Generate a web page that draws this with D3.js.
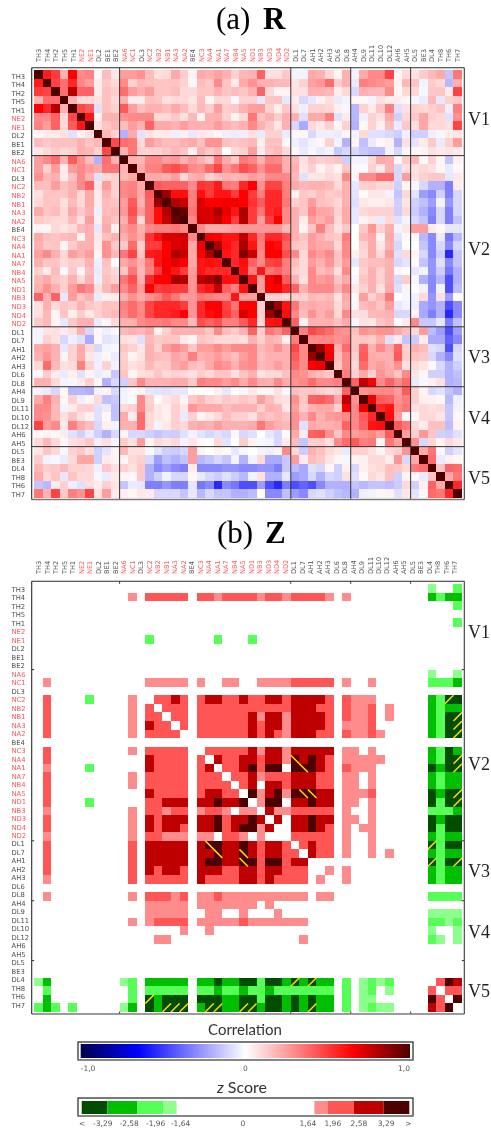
<!DOCTYPE html>
<html>
<head>
<meta charset="utf-8">
<script src="https://cdn.jsdelivr.net/npm/d3@7"></script>
<style>
  html, body { margin: 0; padding: 0; background: #fff; }
  svg { display: block; filter: blur(0.35px); }
</style>
</head>
<body>
<svg id="chart" width="491" height="1132"></svg>
<script>
// electrode names, same order on both matrices
const labels = [
  "TH3","TH4","TH2","TH5","TH1","NE2","NE1","DL2","BE1","BE2",
  "NA6","NC1","DL3","NC2","NB2","NB1","NA3","NA2","BE4","NC3",
  "NA4","NA1","NA7","NB4","NA5","ND1","NB3","ND3","ND4","ND2",
  "DL1","DL7","AH1","AH2","AH3","DL6","DL8",
  "AH4","DL9","DL11","DL10","DL12","AH6","AH5",
  "DL5","BE3","DL4","TH8","TH6","TH7"
];
const groupStarts = ["NA6","DL1","AH4","DL5"];
const groupNames = ["V1","V2","V3","V4","V5"];

// correlation x 100, upper triangle without the diagonal
const rUpper = [
  [58,50,20,65,30,32,2,17,6, 25,25,28,17,8,10,22,13,3,22,20,24,20,12,18,20,40,8,8,14, -3,-3,22,20,10,2,20, -3,22,30,30,48,2,10, 7,13,18,22,-15,35],
  [48,37,55,30,25,5,14,10, 30,12,18,16,15,15,15,12,2,17,14,30,15,5,22,28,20,20,18,18, 7,12,24,27,38,13,20, -5,33,30,28,25,3,18, 15,-3,13,10,-18,20],
  [37,80,40,40,5,16,13, 37,25,20,25,15,15,17,10,10,15,15,20,15,17,15,20,40,10,3,3, 8,8,20,20,18,5,10, -10,20,18,18,30,2,10, 10,-2,14,15,5,48],
  [20,10,10,8,16,10, 20,5,5,16,15,8,10,10,7,17,3,10,10,-2,12,12,-6,15,15,-6, 5,-10,-6,3,8,-5,-3, 2,2,-3,8,5,5,2, -2,-5,18,-6,12,14],
  [47,42,-8,16,12, 42,25,16,20,20,17,22,17,10,18,13,25,13,14,20,25,25,12,4,14, 8,-4,12,12,10,4,-2, -18,12,5,15,33,-8,8, 12,10,12,15,-4,33],
  [60,3,20,20, 28,30,30,30,10,10,14,8,18,3,20,20,12,3,10,35,15,20,13,20, 20,-8,22,22,33,-8,5, -18,-4,12,8,22,-12,10, 14,23,12,10,-8,28],
  [8,15,18, 17,25,20,40,22,22,20,25,20,20,20,25,20,17,20,30,20,14,6,20, -10,-22,10,6,12,3,12, -20,2,12,4,17,-5,14, 8,23,10,10,8,48],
  [18,12, -20,22,-8,7,5,5,-4,4,-6,6,5,2,-4,-5,-4,8,-5,12,12,-5, 2,2,-10,-4,-4,-5,2, -3,10,-8,-8,-10,-12,-4, -12,-12,-4,-2,5,7],
  [47, 37,35,10,25,20,17,17,20,22,16,28,28,16,14,16,18,4,16,16,2, -4,-7,-3,2,12,-3,-20, 3,-16,-5,2,4,-20,8, -7,5,14,-5,12,25],
  [20,35,12,12,12,15,18,15,4,20,14,18,0,10,12,25,5,15,18,10, 2,-5,-2,-5,-3,-14,-10, -10,-14,-16,-16,-3,-10,-2, 2,3,8,5,7,5],
  [20,18,30,30,25,27,20,25,20,14,35,22,14,35,30,20,32,30,20, 18,8,15,12,13,15,-12, -3,-3,10,22,20,2,13, 18,2,12,3,-15,4],
  [22,32,33,42,45,40,30,28,38,48,28,35,45,40,28,38,38,20, 20,7,12,3,8,3,15, 2,-1,12,5,20,-10,8, 8,10,8,2,-5,2],
  [22,22,20,25,10,20,22,12,15,20,18,20,25,22,30,30,30, 18,-8,6,7,10,8,30, 3,30,30,38,38,-10,25, 8,12,14,14,-6,6],
  [42,40,40,40,30,52,50,58,35,33,55,65,28,48,48,33, 22,18,20,20,18,10,20, -6,12,13,10,10,-12,3, -2,-10,-20,-20,-33,5],
  [85,62,62,33,62,50,60,60,50,65,50,33,55,55,33, 3,14,12,17,13,15,20, -7,1,6,6,-3,-15,10, -7,-25,-30,-12,-33,-10],
  [80,76,33,72,65,65,67,67,65,52,42,55,55,35, 12,15,25,16,14,10,20, -8,6,4,4,6,-12,7, -12,-16,-25,-3,-27,-10],
  [95,35,72,72,82,70,60,82,50,35,55,58,30, 20,15,30,23,22,12,22, -6,10,12,12,12,-13,10, -13,-20,-30,-10,-33,-10],
  [30,74,72,76,65,50,80,50,25,50,65,30, 20,5,25,20,25,10,22, -6,3,6,-5,10,-8,-3, -10,-15,-33,-10,-33,-15],
  [30,22,22,22,25,27,27,27,27,27,18, 20,3,15,33,17,8,14, 0,14,27,12,20,-3,6, 25,25,5,2,-6,-6],
  [68,65,60,60,78,55,35,55,55,45, 20,15,25,20,15,13,33, 0,18,22,3,22,-7,2, 2,-18,-30,-5,-35,-18],
  [82,62,55,82,60,33,65,62,40, 15,13,25,22,22,10,30, 0,12,22,6,20,-10,0, 0,-15,-30,-10,-30,-10],
  [60,55,90,76,30,65,65,45, 30,10,30,25,30,15,30, 4,10,22,10,25,-8,10, 3,-10,-30,-13,-55,-15],
  [55,62,40,30,48,50,33, 17,10,25,20,27,15,25, -6,14,17,17,20,-10,-7, 1,-15,-27,-8,-30,-15],
  [60,33,60,35,40,33, 13,10,30,17,20,8,30, 0,12,20,12,20,2,0, -6,-3,-27,-13,-35,-20],
  [60,25,65,72,42, 20,8,30,25,28,15,22, -2,15,20,12,20,-10,13, -2,-20,-30,-18,-45,-20],
  [25,65,65,55, 40,20,30,30,30,20,30, 6,12,20,8,22,-8,3, 0,-3,-30,-3,-45,-17],
  [12,12,10, 12,12,18,16,18,7,22, 2,25,12,18,35,0,-2, -3,10,-27,8,-25,1],
  [85,60, 35,20,22,20,20,10,20, 2,17,20,15,25,-6,-3, -4,-22,-27,-20,-45,-30],
  [62, 30,17,28,20,25,10,30, 8,9,18,18,20,-10,-10, 3,-22,-33,-20,-55,-30],
  [40,4,20,20,20,16,22, -2,8,6,15,18,1,5, 30,-14,-14,-6,-33,-16],
  [33,47,42,38,30,28, 16,28,25,28,28,22,17, 10,25,-17,-25,-45,-25],
  [30,30,30,28,30, 14,15,13,20,-8,5,-15, -13,5,-22,-22,-40,-30],
  [85,65,20,38, 15,40,20,30,22,40,12, 20,17,-8,-10,-45,-10],
  [68,17,30, 12,42,22,20,20,42,13, 16,14,-10,-20,-30,-8],
  [15,30, 10,38,22,25,20,28,8, 10,7,2,-10,-20,-12],
  [33, 12,22,12,27,22,15,30, 7,2,-12,-12,-20,-16],
  [40,77,66,30,40,30,38, -5,-2,4,8,-20,-18],
  [28,30,30,30,25,42, 12,3,-10,-8,-15,-20],
  [68,42,40,28,33, 12,4,4,2,-18,-4],
  [55,60,30,35, 8,10,8,10,-15,-3],
  [62,25,2, 2,10,10,7,-15,2],
  [42,35, 10,5,16,16,-17,3],
  [25, 12,27,15,-12,-13,-8],
  [28,-10,10,3,10,6],
  [22,35,2,-12,-7],
  [38,-5,4,2],
  [15,40,38],
  [22,35],
  [55]
];

// z score class per cell, upper triangle only. "." not significant,
// 1-4 positive classes, a-d negative classes. spaces mark the five groups
const zUpper = [
  ".......... .................... ....... ....... ..a..b",
  ".......... .1.22222.22122221221 22221.1 ....... ..cbcc",
  ".......... .................... ....... ....... .....b",
  ".......... .................... ....... ....... ......",
  ".......... .................... ....... ....... .....b",
  ".......... .................... ....... ....... ......",
  ".......... ...b.......b...b.... ....... ....... ......",
  ".......... .................... ....... ....... ......",
  ".......... .................... ....... ....... ......",
  ".......... .................... ....... ....... ......",
  ".......... .................... ....... ....... ..a..a",
  ".......... ...11111.1..11..1111 22222.1 ..1.... ..bbbc",
  ".......... .................... ....... ....... ......",
  ".......... ....2232.23322322332 33332.2 111.... ..cbdd",
  ".......... .....222.22222222222 33322.2 112.1.. ..cbcc",
  ".......... ......22.22222231331 33332.2 112.1.. ..cbdd",
  ".......... .......2.22222232331 33332.1 112.... ..cbdd",
  ".......... .........22222232321 33322.2 1121... ..cbdd",
  ".......... .................... ....... ....... ......",
  ".......... ..........2222231331 33333.1 1.1.... ..cbdc",
  ".......... ...........322332331 43432.1 1111... ..cbdd",
  ".......... ............2234244. 44432.2 111.... ..dcdd",
  ".......... .............2231222 33322.1 1.1.... ..cbcc",
  ".......... ..............23.332 33322.1 1.1.... ..cbcc",
  ".......... ...............41341 44433.1 112.... ..dcdd",
  ".......... ................144. 33433.1 1.1.... ..dbdd",
  ".......... .................311 22222.1 ..1.... ..bbbc",
  ".......... ..................3. 33433.1 1.1.... ..dcdd",
  ".......... .................... 33432.1 .11.... ..dbdd",
  ".......... .................... 22222.1 ..1.... ..cbcc",
  ".......... .................... .2322.1 ..1.... ..dbdd",
  ".......... .................... ..322.1 ..1.1.. ..cbcc",
  ".......... .................... ....... ....... ..dbdd",
  ".......... .................... ....1.1 ....... ..cbcc",
  ".......... .................... ......1 ....... ..cbcc",
  ".......... .................... ....... ....... ......",
  ".......... .................... ....... ....... ..bbbb",
  ".......... .................... ....... ....... ......",
  ".......... .................... ....... ....... ..aaaa",
  ".......... .................... ....... ....... ..bbab",
  ".......... .................... ....... ....... ..a..a",
  ".......... .................... ....... ....... ..ba.a",
  ".......... .................... ....... ....... ......",
  ".......... .................... ....... ....... ......",
  ".......... .................... ....... ....... ......",
  ".......... .................... ....... ....... ......",
  ".......... .................... ....... ....... ...243",
  ".......... .................... ....... ....... ....22",
  ".......... .................... ....... ....... .....4",
  ".......... .................... ....... ....... ......"
];

// cells with a yellow slash [row, column]
const slashRed = [["NA4","DL1"],["NA1","DL7"],["NA5","DL7"],["NA5","AH1"]];
const slashGreen = [["NC2","TH6"],["NB1","TH7"],["NA3","TH7"],["NA2","TH7"],["NA4","TH7"],
  ["NA1","TH7"],["NA5","TH7"],["ND1","TH7"],["DL1","DL4"],["AH1","DL4"],["AH1","TH7"]];

const zClasses = ["d","c","b","a","1","2","3","4"];
const zColors = ["#004d00","#00bf00","#55ff55","#8cff8c","#ff8c8c","#ff5555","#bf0000","#4d0000"];
const zBreaks = [-3.9,-3.29,-2.58,-1.96,-1.64,1.64,1.96,2.58,3.29,3.9];
const zTickText = ["<","-3,29","-2,58","-1,96","-1,64","0","1,64","1,96","2,58","3,29",">"];
const zTickVals = [-3.9,-3.29,-2.58,-1.96,-1.64,0,1.64,1.96,2.58,3.29,3.9];
const corrStops = [-1,-0.65,0,0.65,1];
const corrColors = ["#00004d","#0000ff","#ffffff","#ff0000","#4d0000"];

const svg = d3.select("#chart");
const sansTick = "'DejaVu Sans', sans-serif";
const sansTitle = "Lato, 'Open Sans', sans-serif";
const serif = "'Liberation Serif', serif";

const rCorr = d3.scaleLinear().domain(corrStops).range(corrColors);
const zColor = d3.scaleOrdinal().domain(zClasses).range(zColors);

// cell grid shared by both panels
const x = d3.scaleBand().domain(labels).range([34, 462]);
const cw = x.bandwidth();

const rCells = [];
labels.forEach((a, i) => {
  rCells.push({ row: a, col: a, v: 1 });
  if (i < 49) {
    if (rUpper[i].length !== 49 - i) throw new Error("R row " + i + " has " + rUpper[i].length);
    rUpper[i].forEach((v, k) => {
      const b = labels[i + 1 + k];
      rCells.push({ row: a, col: b, v: v / 100 }, { row: b, col: a, v: v / 100 });
    });
  }
});

const zCells = [];
zUpper.forEach((s, i) => {
  const chars = s.replace(/ /g, "");
  if (chars.length !== 50) throw new Error("Z row " + i + " has " + chars.length);
  chars.split("").forEach((c, j) => {
    if (c !== ".") {
      zCells.push({ row: labels[i], col: labels[j], c }, { row: labels[j], col: labels[i], c });
    }
  });
});

const labelColor = (d) => (d[0] === "N" ? "#f4595f" : "#505050");

function drawLabels(g, colBase, colRange, rowRange) {
  const cx = d3.scalePoint().domain(labels).range(colRange);
  const ry = d3.scalePoint().domain(labels).range(rowRange);
  g.selectAll(".col-label").data(labels).enter().append("text")
    .attr("class", "col-label")
    .attr("transform", (d) => `translate(${cx(d) + 2.4},${colBase}) rotate(-90)`)
    .attr("font-family", sansTick).attr("font-size", 6.6)
    .attr("fill", labelColor).text((d) => d);
  g.selectAll(".row-label").data(labels).enter().append("text")
    .attr("class", "row-label")
    .attr("x", 11.5).attr("y", (d) => ry(d) + 2.5)
    .attr("font-family", sansTick).attr("font-size", 6.8)
    .attr("fill", labelColor).text((d) => d);
}

function drawFrame(g, box) {
  const line = (x1, y1, x2, y2, col, w) => g.append("line")
    .attr("x1", x1).attr("y1", y1).attr("x2", x2).attr("y2", y2)
    .attr("stroke", col).attr("stroke-width", w);
  line(box.l, box.b, box.r, box.b, "#7a7a7a", 1.6);
  line(box.l, box.t, box.r, box.t, "#2a2a2a", 1.1);
  line(box.l, box.t, box.l, box.b, "#2a2a2a", 1.1);
  line(box.r, box.t, box.r, box.b, "#3a3a3a", 1.1);
}

function title(cx1, cx2, base, a, b) {
  svg.append("text").attr("x", cx1).attr("y", base)
    .attr("font-family", serif).attr("font-size", 31).text(a);
  svg.append("text").attr("x", cx2).attr("y", base)
    .attr("font-family", serif).attr("font-size", 31).attr("font-weight", "bold").text(b);
}

function groupLabels(ys) {
  svg.selectAll(null).data(groupNames).enter().append("text")
    .attr("x", 468).attr("y", (d, i) => ys[i])
    .attr("font-family", serif).attr("font-size", 18).attr("fill", "#222").text((d) => d);
}

// ---- (a) R
title(216, 263, 29, "(a)", "R");
const yR = d3.scaleBand().domain(labels).range([70, 498]);
const gR = svg.append("g");
gR.selectAll("rect").data(rCells).enter().append("rect")
  .attr("x", (d) => x(d.col)).attr("y", (d) => yR(d.row))
  .attr("width", cw).attr("height", yR.bandwidth())
  .attr("shape-rendering", "crispEdges")
  .attr("fill", (d) => rCorr(d.v));
const boxR = { l: 31.7, r: 464.3, t: 67.7, b: 499.5 };
groupStarts.forEach((n) => {
  gR.append("line").attr("x1", x(n)).attr("x2", x(n)).attr("y1", boxR.t).attr("y2", boxR.b)
    .attr("stroke", "#333").attr("stroke-width", 1);
  gR.append("line").attr("x1", boxR.l).attr("x2", boxR.r).attr("y1", yR(n)).attr("y2", yR(n))
    .attr("stroke", "#333").attr("stroke-width", 1);
});
drawFrame(gR, boxR);
drawLabels(gR, 62, [39, 457.5], [76, 494.3]);
groupLabels([125, 255, 363, 424, 484]);

// ---- (b) Z
title(217, 265, 543, "(b)", "Z");
const yZ = d3.scaleBand().domain(labels).range([584, 1012]);
const gZ = svg.append("g");
gZ.selectAll("rect").data(zCells).enter().append("rect")
  .attr("x", (d) => x(d.col)).attr("y", (d) => yZ(d.row))
  .attr("width", cw).attr("height", yZ.bandwidth())
  .attr("shape-rendering", "crispEdges")
  .attr("fill", (d) => zColor(d.c));

// red cells get "\" and green cells get "/", on both sides of the diagonal
const both = (pairs) => pairs.flatMap(([a, b]) => [[a, b], [b, a]]);
gZ.selectAll(".slash-r").data(both(slashRed)).enter().append("line")
  .attr("class", "slash-r")
  .attr("x1", (d) => x(d[1])).attr("y1", (d) => yZ(d[0]))
  .attr("x2", (d) => x(d[1]) + cw).attr("y2", (d) => yZ(d[0]) + cw)
  .attr("stroke", "#ffdd00").attr("stroke-width", 1.5);
gZ.selectAll(".slash-g").data(both(slashGreen)).enter().append("line")
  .attr("class", "slash-g")
  .attr("x1", (d) => x(d[1])).attr("y1", (d) => yZ(d[0]) + cw)
  .attr("x2", (d) => x(d[1]) + cw).attr("y2", (d) => yZ(d[0]))
  .attr("stroke", "#ffdd00").attr("stroke-width", 1.5);

const boxZ = { l: 31.7, r: 464.3, t: 581.3, b: 1014 };
groupStarts.forEach((n) => {
  const tick = (x1, y1, x2, y2) => gZ.append("line")
    .attr("x1", x1).attr("y1", y1).attr("x2", x2).attr("y2", y2)
    .attr("stroke", "#333").attr("stroke-width", 1);
  tick(x(n), boxZ.t, x(n), boxZ.t + 2.5);
  tick(x(n), boxZ.b, x(n), boxZ.b - 2.5);
  tick(boxZ.l, yZ(n), boxZ.l + 2.5, yZ(n));
  tick(boxZ.r, yZ(n), boxZ.r - 2.5, yZ(n));
});
drawFrame(gZ, boxZ);
drawLabels(gZ, 574, [39, 455], [589.3, 1005.3]);
groupLabels([638, 770, 877, 938, 997]);

// ---- legends
function legendFrame(y0, y1) {
  svg.append("rect").attr("x", 78).attr("y", y0).attr("width", 335).attr("height", y1 - y0)
    .attr("fill", "#fff").attr("stroke", "#222").attr("stroke-width", 1.2);
  svg.append("line").attr("x1", 78).attr("x2", 413).attr("y1", y1).attr("y2", y1)
    .attr("stroke", "#8a8a8a").attr("stroke-width", 1.6);
}

svg.append("text").attr("x", 245).attr("y", 1035).attr("text-anchor", "middle")
  .attr("font-family", sansTitle).attr("font-size", 15).attr("fill", "#333").text("Correlation");
legendFrame(1042, 1060);
const corrX = d3.scaleLinear().domain([-1, 1]).range([80.7, 410]);
const grad = svg.append("defs").append("linearGradient").attr("id", "corr-grad");
corrStops.forEach((s) => {
  grad.append("stop").attr("offset", (s + 1) / 2).attr("stop-color", rCorr(s));
});
svg.append("rect").attr("x", corrX(-1)).attr("y", 1044)
  .attr("width", corrX(1) - corrX(-1)).attr("height", 14).attr("fill", "url(#corr-grad)");
[["-1,0", -1, "start"], ["0", 0, "middle"], ["1,0", 1, "end"]].forEach(([t, v, anchor]) => {
  svg.append("text").attr("x", corrX(v)).attr("y", 1071).attr("text-anchor", anchor)
    .attr("font-family", sansTick).attr("font-size", 7.5).attr("fill", "#555").text(t);
});

const zTitle = svg.append("text").attr("x", 242).attr("y", 1093).attr("text-anchor", "middle")
  .attr("font-family", sansTitle).attr("font-size", 16).attr("fill", "#333");
zTitle.append("tspan").attr("font-style", "italic").text("z");
zTitle.append("tspan").text(" Score");
legendFrame(1098, 1116);
const zX = d3.scaleLinear().domain([-3.9, 3.9]).range([81.7, 409.3]);
zClasses.forEach((c, i) => {
  const lo = i < 4 ? zBreaks[i] : zBreaks[i + 1];
  const hi = i < 4 ? zBreaks[i + 1] : zBreaks[i + 2];
  svg.append("rect").attr("x", zX(lo)).attr("y", 1101)
    .attr("width", zX(hi) - zX(lo)).attr("height", 13).attr("fill", zColor(c));
});
// printed labels sit a little away from their breaks so they don't collide
const zNudge = [0.5, -4.5, -8, -7.5, 4, -2.5, -6.5, 5, 5, 2.5, -1];
zTickText.forEach((t, i) => {
  svg.append("text").attr("x", zX(zTickVals[i]) + zNudge[i]).attr("y", 1125.7).attr("text-anchor", "middle")
    .attr("font-family", sansTick).attr("font-size", 7.5).attr("fill", "#555").text(t);
});
</script>
</body>
</html>
